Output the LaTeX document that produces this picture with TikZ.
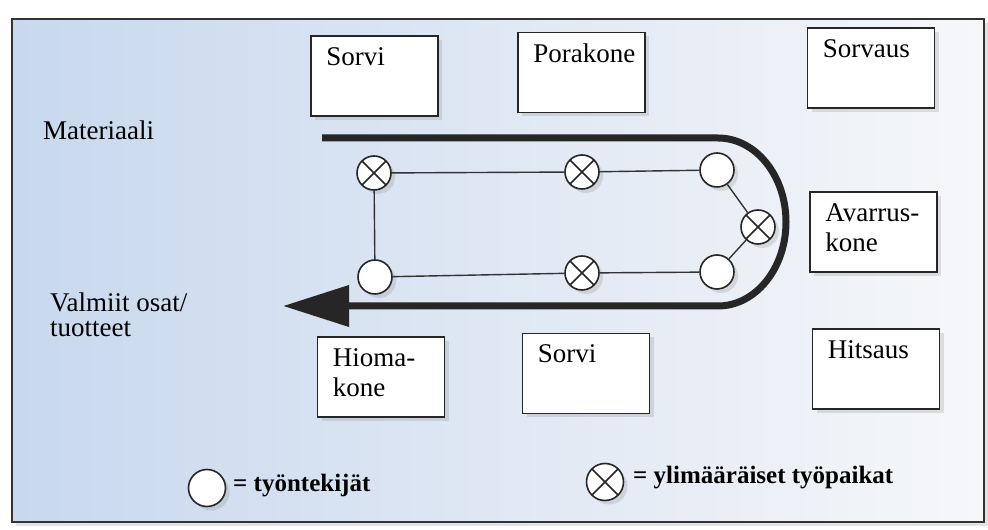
\documentclass[tikz,border=0pt]{standalone}
\usepackage{fontspec}
\setmainfont{Liberation Serif}
\usetikzlibrary{arrows.meta,shadows}

\begin{document}
\begin{tikzpicture}[x=1pt,y=1pt,
    shade/.style={drop shadow={shadow xshift=4pt,shadow yshift=-4pt,opacity=0.22}},
    worker/.style={circle,draw=black!85,line width=1.6pt,fill=white,minimum size=34pt,inner sep=0pt,shade},
    extra/.style={worker,path picture={\draw[line width=1.6pt,black!85]
        (path picture bounding box.north west) -- (path picture bounding box.south east)
        (path picture bounding box.north east) -- (path picture bounding box.south west);}},
    machine/.style={draw=black!85,line width=1.6pt,fill=white,minimum width=127pt,minimum height=80pt,inner sep=0pt,shade},
    mlabel/.style={anchor=north west,inner sep=0pt,xshift=16pt,yshift=-12pt,align=left,font=\fontsize{27}{30}\selectfont},
    txt/.style={anchor=west,inner sep=0pt,align=left,font=\fontsize{27}{25}\selectfont},
    leg/.style={anchor=west,inner sep=0pt,font=\fontsize{25}{26}\selectfont\bfseries},
    link/.style={line width=1.4pt,black!80},
    flow/.style={line width=7pt,black!85,-{Triangle[length=66pt,width=40pt]}}]
    \useasboundingbox (0,0) rectangle (988,530);
    % frame
    \shade[left color={rgb,255:red,200;green,216;blue,238},right color={rgb,255:red,246;green,247;blue,249}] (12,8) rectangle (984,511);
    \draw[line width=2pt,black!80] (12,8) rectangle (984,511);
    % machines
    \node[machine] (sorvia) at (374.5,454) {};
    \node[machine] (pora) at (581.5,457.5) {};
    \node[machine] (sorvaus) at (871,462) {};
    \node[machine] (avarrus) at (873.5,298) {};
    \node[machine] (hioma) at (381,153) {};
    \node[machine] (sorvib) at (586,156.5) {};
    \node[machine] (hitsaus) at (876,161) {};
    \node[mlabel] (sorvia-t) at (sorvia.north west) {Sorvi};
    \node[mlabel] (pora-t) at (pora.north west) {Porakone};
    \node[mlabel] (sorvaus-t) at (sorvaus.north west) {Sorvaus};
    \node[mlabel] (avarrus-t) at (avarrus.north west) {Avarrus-\\kone};
    \node[mlabel] (hioma-t) at (hioma.north west) {Hioma-\\kone};
    \node[mlabel] (sorvib-t) at (sorvib.north west) {Sorvi};
    \node[mlabel] (hitsaus-t) at (hitsaus.north west) {Hitsaus};
    % material flow
    \coordinate (matin) at (322,392);
    \coordinate (turn) at (718,392);
    \coordinate (matout) at (283,224);
    \draw[flow] (matin) -- (turn) arc[start angle=90,end angle=-90,x radius=68,y radius=84] -- (matout);
    \node[txt] (mat) at (43,400) {Materiaali};
    \node[txt] (valm) at (50,215) {Valmiit osat/\\tuotteet};
    % cell
    \node[extra] (xa) at (374,357) {};
    \node[extra] (xb) at (582,358) {};
    \node[worker] (oa) at (717,360) {};
    \node[extra] (xc) at (758,303) {};
    \node[worker] (ob) at (717,258) {};
    \node[extra] (xd) at (582,257) {};
    \node[worker] (oc) at (375,253) {};
    \draw[link] (xa) -- (xb) -- (oa) -- (xc) -- (ob) -- (xd) -- (oc) -- (xa);
    % legend
    \node[worker,minimum size=37pt] (lw) at (207,42) {};
    \node[leg] (lw-t) at (233,44) {= työntekijät};
    \node[extra,minimum size=37pt] (lx) at (605,48) {};
    \node[leg] (lx-t) at (633,52) {= ylimääräiset työpaikat};
\end{tikzpicture}
\end{document}
